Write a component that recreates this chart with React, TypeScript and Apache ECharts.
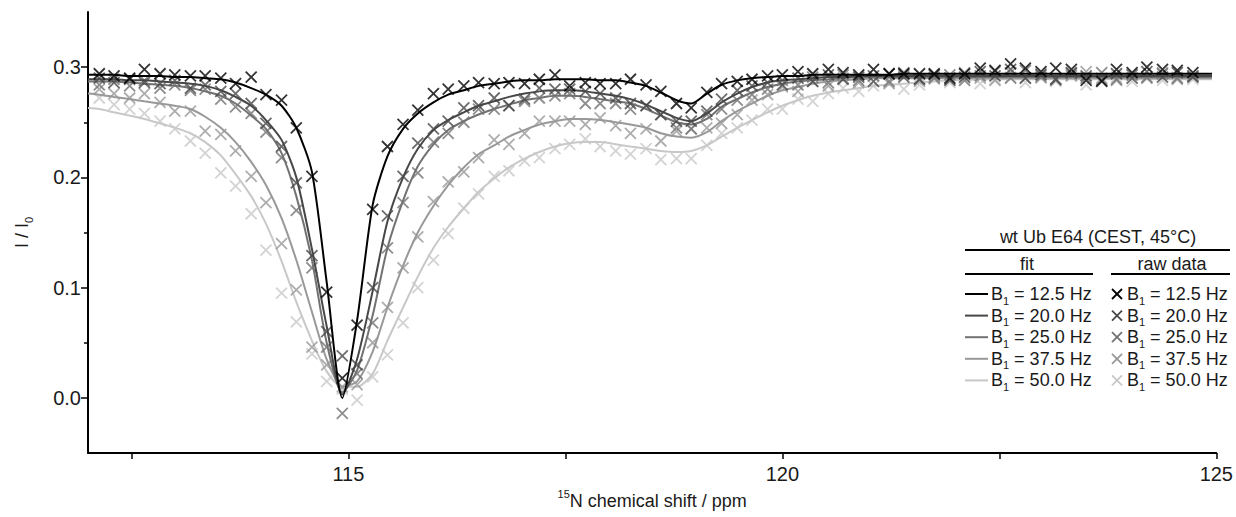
import React, { useEffect, useRef } from 'react';
import * as echarts from 'echarts';

// chemical shift positions of the raw data points (ppm)
const shiftPpm = [
  112.13, 112.30, 112.48, 112.65, 112.83, 113.00, 113.18, 113.35, 113.53, 113.70,
  113.88, 114.05, 114.23, 114.40, 114.58, 114.75, 114.93, 115.10, 115.28, 115.45,
  115.63, 115.80, 115.98, 116.15, 116.33, 116.50, 116.68, 116.85, 117.03, 117.20,
  117.38, 117.55, 117.73, 117.90, 118.08, 118.25, 118.43, 118.60, 118.78, 118.95,
  119.13, 119.30, 119.48, 119.65, 119.83, 120.00, 120.18, 120.35, 120.53, 120.70,
  120.88, 121.05, 121.23, 121.40, 121.58, 121.75, 121.93, 122.10, 122.28, 122.45,
  122.63, 122.80, 122.98, 123.15, 123.33, 123.50, 123.68, 123.85, 124.03, 124.20,
  124.38, 124.55, 124.73,
];

// fit curves extend to these edges
const fitEdgeX = [112.0, 124.95];
const fitLeft = [0.293, 0.289, 0.287, 0.276, 0.263];
const fitRight = [0.294, 0.292, 0.291, 0.290, 0.289];

const b1Labels = ['12.5', '20.0', '25.0', '37.5', '50.0'];

const fit125 = [
  0.293, 0.293, 0.292, 0.292, 0.292, 0.291, 0.291, 0.290, 0.289, 0.286,
  0.281, 0.275, 0.265, 0.245, 0.205, 0.105, 0.000, 0.070, 0.175, 0.219,
  0.244, 0.258, 0.268, 0.275, 0.279, 0.283, 0.285, 0.287, 0.288, 0.288,
  0.289, 0.289, 0.289, 0.288, 0.288, 0.286, 0.283, 0.277, 0.270, 0.267,
  0.276, 0.284, 0.288, 0.290, 0.291, 0.292, 0.292, 0.293, 0.293, 0.293,
  0.293, 0.293, 0.293, 0.294, 0.294, 0.294, 0.294, 0.294, 0.294, 0.294,
  0.294, 0.294, 0.294, 0.294, 0.294, 0.294, 0.294, 0.294, 0.294, 0.294,
  0.294, 0.294, 0.294,
];
const fit200 = [
  0.289, 0.289, 0.288, 0.288, 0.287, 0.286, 0.285, 0.283, 0.279, 0.273,
  0.265, 0.252, 0.234, 0.200, 0.135, 0.065, 0.003, 0.035, 0.097, 0.160,
  0.200, 0.226, 0.243, 0.252, 0.259, 0.265, 0.269, 0.273, 0.276, 0.278,
  0.279, 0.279, 0.278, 0.276, 0.274, 0.271, 0.266, 0.260, 0.254, 0.251,
  0.258, 0.268, 0.276, 0.282, 0.286, 0.288, 0.289, 0.290, 0.291, 0.291,
  0.292, 0.292, 0.292, 0.292, 0.292, 0.292, 0.292, 0.292, 0.292, 0.292,
  0.292, 0.292, 0.292, 0.292, 0.292, 0.292, 0.292, 0.292, 0.292, 0.292,
  0.292, 0.292, 0.292,
];
const fit250 = [
  0.287, 0.287, 0.286, 0.285, 0.284, 0.283, 0.281, 0.278, 0.274, 0.267,
  0.256, 0.244, 0.222, 0.183, 0.125, 0.050, 0.005, 0.025, 0.075, 0.136,
  0.179, 0.210, 0.230, 0.243, 0.251, 0.257, 0.262, 0.266, 0.270, 0.272,
  0.274, 0.274, 0.273, 0.271, 0.269, 0.267, 0.262, 0.256, 0.250, 0.248,
  0.253, 0.264, 0.271, 0.277, 0.282, 0.285, 0.287, 0.288, 0.289, 0.290,
  0.291, 0.291, 0.291, 0.291, 0.291, 0.291, 0.291, 0.291, 0.291, 0.291,
  0.291, 0.291, 0.291, 0.291, 0.291, 0.291, 0.291, 0.291, 0.291, 0.291,
  0.291, 0.291, 0.291,
];
const fit375 = [
  0.275, 0.273, 0.271, 0.269, 0.267, 0.265, 0.262, 0.255, 0.245, 0.232,
  0.214, 0.193, 0.163, 0.125, 0.078, 0.035, 0.010, 0.015, 0.042, 0.082,
  0.120, 0.150, 0.174, 0.193, 0.209, 0.221, 0.229, 0.237, 0.243, 0.248,
  0.251, 0.253, 0.253, 0.252, 0.250, 0.248, 0.245, 0.240, 0.237, 0.236,
  0.241, 0.251, 0.260, 0.267, 0.274, 0.279, 0.282, 0.285, 0.287, 0.288,
  0.289, 0.290, 0.290, 0.290, 0.290, 0.290, 0.290, 0.290, 0.290, 0.290,
  0.290, 0.290, 0.290, 0.290, 0.290, 0.290, 0.290, 0.290, 0.290, 0.290,
  0.290, 0.290, 0.290,
];
const fit500 = [
  0.262, 0.259, 0.256, 0.253, 0.249, 0.245, 0.240, 0.232, 0.220, 0.203,
  0.183, 0.158, 0.124, 0.087, 0.052, 0.024, 0.010, 0.010, 0.022, 0.052,
  0.082, 0.110, 0.136, 0.155, 0.172, 0.187, 0.199, 0.209, 0.217, 0.223,
  0.228, 0.231, 0.232, 0.232, 0.230, 0.228, 0.226, 0.224, 0.223, 0.224,
  0.229, 0.237, 0.245, 0.252, 0.259, 0.265, 0.270, 0.274, 0.277, 0.279,
  0.281, 0.283, 0.284, 0.285, 0.286, 0.287, 0.288, 0.288, 0.289, 0.289,
  0.289, 0.289, 0.289, 0.289, 0.289, 0.289, 0.289, 0.289, 0.289, 0.289,
  0.289, 0.289, 0.289,
];

const raw125 = [
  0.294, 0.292, 0.290, 0.298, 0.294, 0.293, 0.292, 0.292, 0.290, 0.285,
  0.291, 0.275, 0.270, 0.245, 0.201, 0.096, 0.018, 0.066, 0.171, 0.228,
  0.248, 0.261, 0.276, 0.280, 0.283, 0.286, 0.285, 0.286, 0.285, 0.289,
  0.293, 0.283, 0.286, 0.285, 0.285, 0.289, 0.284, 0.278, 0.267, 0.263,
  0.277, 0.285, 0.287, 0.289, 0.292, 0.293, 0.296, 0.294, 0.298, 0.295,
  0.293, 0.298, 0.294, 0.294, 0.294, 0.294, 0.290, 0.294, 0.299, 0.297,
  0.303, 0.299, 0.296, 0.299, 0.298, 0.288, 0.287, 0.298, 0.295, 0.300,
  0.298, 0.297, 0.295,
];
const raw200 = [
  0.290, 0.286, 0.289, 0.286, 0.285, 0.288, 0.281, 0.284, 0.278, 0.276,
  0.267, 0.249, 0.228, 0.195, 0.129, 0.060, 0.038, 0.030, 0.100, 0.165,
  0.201, 0.231, 0.244, 0.251, 0.263, 0.265, 0.272, 0.265, 0.271, 0.281,
  0.280, 0.280, 0.278, 0.276, 0.272, 0.267, 0.265, 0.257, 0.251, 0.251,
  0.260, 0.271, 0.279, 0.283, 0.286, 0.284, 0.290, 0.287, 0.293, 0.289,
  0.291, 0.287, 0.294, 0.291, 0.289, 0.293, 0.288, 0.291, 0.296, 0.292,
  0.298, 0.290, 0.293, 0.289, 0.295, 0.292, 0.288, 0.294, 0.290, 0.296,
  0.291, 0.295, 0.291,
];
const raw250 = [
  0.284, 0.289, 0.283, 0.288, 0.281, 0.284, 0.279, 0.280, 0.271, 0.264,
  0.258, 0.241, 0.218, 0.170, 0.118, 0.046, -0.014, 0.022, 0.068, 0.136,
  0.177, 0.204, 0.232, 0.240, 0.250, 0.262, 0.262, 0.265, 0.269, 0.272,
  0.274, 0.276, 0.267, 0.267, 0.267, 0.262, 0.265, 0.257, 0.245, 0.244,
  0.257, 0.262, 0.270, 0.275, 0.280, 0.288, 0.284, 0.291, 0.286, 0.293,
  0.288, 0.292, 0.287, 0.295, 0.289, 0.290, 0.293, 0.288, 0.292, 0.296,
  0.290, 0.297, 0.291, 0.289, 0.294, 0.290, 0.295, 0.289, 0.293, 0.291,
  0.294, 0.290, 0.292,
];
const raw375 = [
  0.280, 0.276, 0.272, 0.276, 0.268, 0.260, 0.260, 0.242, 0.239, 0.224,
  0.201, 0.177, 0.140, 0.098, 0.046, 0.030, 0.010, 0.012, 0.050, 0.082,
  0.118, 0.146, 0.178, 0.196, 0.205, 0.218, 0.234, 0.230, 0.240, 0.251,
  0.251, 0.251, 0.248, 0.254, 0.247, 0.240, 0.244, 0.233, 0.242, 0.244,
  0.245, 0.249, 0.257, 0.270, 0.275, 0.282, 0.278, 0.287, 0.283, 0.290,
  0.286, 0.292, 0.285, 0.293, 0.287, 0.291, 0.289, 0.295, 0.290, 0.288,
  0.295, 0.290, 0.294, 0.288, 0.292, 0.296, 0.290, 0.288, 0.293, 0.290,
  0.295, 0.289, 0.292,
];
const raw500 = [
  0.272, 0.266, 0.262, 0.258, 0.251, 0.244, 0.233, 0.222, 0.204, 0.192,
  0.167, 0.134, 0.095, 0.069, 0.040, 0.015, 0.008, -0.002, 0.019, 0.039,
  0.068, 0.100, 0.125, 0.149, 0.172, 0.185, 0.201, 0.206, 0.215, 0.218,
  0.226, 0.230, 0.235, 0.228, 0.224, 0.221, 0.226, 0.216, 0.217, 0.217,
  0.229, 0.240, 0.245, 0.252, 0.262, 0.262, 0.271, 0.269, 0.276, 0.281,
  0.278, 0.283, 0.286, 0.280, 0.284, 0.289, 0.286, 0.290, 0.285, 0.289,
  0.291, 0.286, 0.290, 0.287, 0.292, 0.284, 0.289, 0.291, 0.287, 0.290,
  0.288, 0.291, 0.289,
];

const yTickLabels = [0, 0.1, 0.2, 0.3];
const yMinorTicks = [0.05, 0.15, 0.25];
const xTickLabels = [115, 120, 125];
const xTicks = [112.5, 115, 117.5, 120, 122.5, 125];

const fits = [fit125, fit200, fit250, fit375, fit500];
const raws = [raw125, raw200, raw250, raw375, raw500];
const shades = ['#000000', '#474747', '#727272', '#999999', '#c8c8c8'];

const FONT = "'Liberation Sans', Arial, Helvetica, sans-serif";
const TXT = '#1a1a1a';
const CROSS = 'path://M0,0L10,10M10,0L0,10';

function buildOption() {
  const series: any[] = [];
  for (let i = fits.length - 1; i >= 0; i--) {
    const fitData = [[fitEdgeX[0], fitLeft[i]]]
      .concat(shiftPpm.map((x, j) => [x, fits[i][j]]))
      .concat([[fitEdgeX[1], fitRight[i]]]);
    series.push({
      type: 'line',
      name: 'fit ' + b1Labels[i],
      data: fitData,
      smooth: 0.25,
      showSymbol: false,
      symbol: 'none',
      lineStyle: { color: shades[i], width: 2 },
      z: 10 - i,
    });
    series.push({
      type: 'scatter',
      name: 'raw ' + b1Labels[i],
      data: shiftPpm.map((x, j) => [x, raws[i][j]]),
      symbol: CROSS,
      symbolSize: 11,
      itemStyle: { color: shades[i], borderColor: shades[i], borderWidth: 1.8 },
      z: 10 - i,
    });
  }

  const subRich = {
    n: { fontSize: 18, lineHeight: 24, fontFamily: FONT, fill: TXT, color: TXT },
    s: { fontSize: 11, lineHeight: 12, verticalAlign: 'bottom', fontFamily: FONT, fill: TXT, color: TXT },
  };

  const graphic: any[] = [
    {
      type: 'text', x: 1098, y: 237,
      style: { text: 'wt Ub E64 (CEST, 45°C)', fontSize: 18, fontFamily: FONT, fill: TXT, align: 'center', verticalAlign: 'middle', textAlign: 'center', textVerticalAlign: 'middle' },
    },
    { type: 'line', shape: { x1: 965, y1: 250, x2: 1230, y2: 250 }, style: { stroke: '#000', lineWidth: 2 } },
    {
      type: 'text', x: 1027, y: 264,
      style: { text: 'fit', fontSize: 18, fontFamily: FONT, fill: TXT, align: 'center', verticalAlign: 'middle', textAlign: 'center', textVerticalAlign: 'middle' },
    },
    {
      type: 'text', x: 1172, y: 264,
      style: { text: 'raw data', fontSize: 18, fontFamily: FONT, fill: TXT, align: 'center', verticalAlign: 'middle', textAlign: 'center', textVerticalAlign: 'middle' },
    },
    { type: 'line', shape: { x1: 965, y1: 274, x2: 1093, y2: 274 }, style: { stroke: '#000', lineWidth: 2 } },
    { type: 'line', shape: { x1: 1111, y1: 274, x2: 1230, y2: 274 }, style: { stroke: '#000', lineWidth: 2 } },
  ];
  b1Labels.forEach((lab, i) => {
    const y = 294 + 21.6 * i;
    const txt = '{n|B}{s|1}{n| = ' + lab + ' Hz}';
    graphic.push({ type: 'line', shape: { x1: 965, y1: y, x2: 988, y2: y }, style: { stroke: shades[i], lineWidth: 2 } });
    graphic.push({
      type: 'text', x: 991, y,
      style: { text: txt, rich: subRich, fontSize: 18, fontFamily: FONT, fill: TXT, align: 'left', verticalAlign: 'middle', textAlign: 'left', textVerticalAlign: 'middle' },
    });
    graphic.push({ type: 'line', shape: { x1: 1112, y1: y - 5, x2: 1122, y2: y + 5 }, style: { stroke: shades[i], lineWidth: 1.8 } });
    graphic.push({ type: 'line', shape: { x1: 1112, y1: y + 5, x2: 1122, y2: y - 5 }, style: { stroke: shades[i], lineWidth: 1.8 } });
    graphic.push({
      type: 'text', x: 1127, y,
      style: { text: txt, rich: subRich, fontSize: 18, fontFamily: FONT, fill: TXT, align: 'left', verticalAlign: 'middle', textAlign: 'left', textVerticalAlign: 'middle' },
    });
  });

  return {
    animation: false,
    backgroundColor: '#ffffff',
    textStyle: { fontFamily: FONT },
    grid: { left: 88, right: 17, top: 12, bottom: 64 },
    xAxis: {
      type: 'value',
      min: 112,
      max: 125,
      axisLine: { show: true, onZero: false, lineStyle: { color: '#000', width: 2 } },
      axisTick: { show: true, customValues: xTicks, length: 6, lineStyle: { color: '#000', width: 1.5 } },
      axisLabel: {
        customValues: xTickLabels,
        formatter: (v: number) => String(v),
        fontSize: 20, color: TXT, fontFamily: FONT, margin: 11,
      },
      splitLine: { show: false },
      name: '{sup|15}{n|N chemical shift / ppm}',
      nameLocation: 'middle',
      nameGap: 33,
      nameTextStyle: {
        fontSize: 18, color: TXT, fontFamily: FONT,
        rich: {
          n: { fontSize: 18, lineHeight: 24, color: TXT, fontFamily: FONT },
          sup: { fontSize: 11, lineHeight: 18, verticalAlign: 'top', color: TXT, fontFamily: FONT },
        },
      },
    },
    yAxis: [
      {
        type: 'value',
        min: -0.05,
        max: 0.35,
        position: 'left',
        axisLine: { show: true, onZero: false, lineStyle: { color: '#000', width: 2 } },
        axisTick: { show: true, customValues: yTickLabels, length: 7, lineStyle: { color: '#000', width: 1.5 } },
        axisLabel: {
          customValues: yTickLabels,
          formatter: (v: number) => v.toFixed(1),
          fontSize: 20, color: TXT, fontFamily: FONT, margin: 7,
        },
        splitLine: { show: false },
        name: '{n|I / I}{s|0}',
        nameLocation: 'middle',
        nameGap: 54,
        nameTextStyle: {
          fontSize: 18, color: TXT, fontFamily: FONT,
          rich: {
            n: { fontSize: 18, lineHeight: 24, color: TXT, fontFamily: FONT },
            s: { fontSize: 11, lineHeight: 12, verticalAlign: 'bottom', color: TXT, fontFamily: FONT },
          },
        },
      },
      {
        type: 'value',
        min: -0.05,
        max: 0.35,
        position: 'left',
        axisLine: { show: false, onZero: false },
        axisTick: { show: true, customValues: yMinorTicks, length: 4, lineStyle: { color: '#000', width: 1.5 } },
        axisLabel: { show: false },
        splitLine: { show: false },
      },
    ],
    series,
    graphic,
  };
}

export default function App() {
  const ref = useRef<HTMLDivElement>(null);
  useEffect(() => {
    if (!ref.current) return;
    const chart = echarts.init(ref.current, undefined, { renderer: 'svg' });
    chart.setOption(buildOption() as any);
    return () => {
      chart.dispose();
    };
  }, []);
  return (
    <div
      ref={ref}
      style={{ position: 'fixed', left: 0, top: 0, width: 1236, height: 517, background: '#ffffff' }}
    />
  );
}
